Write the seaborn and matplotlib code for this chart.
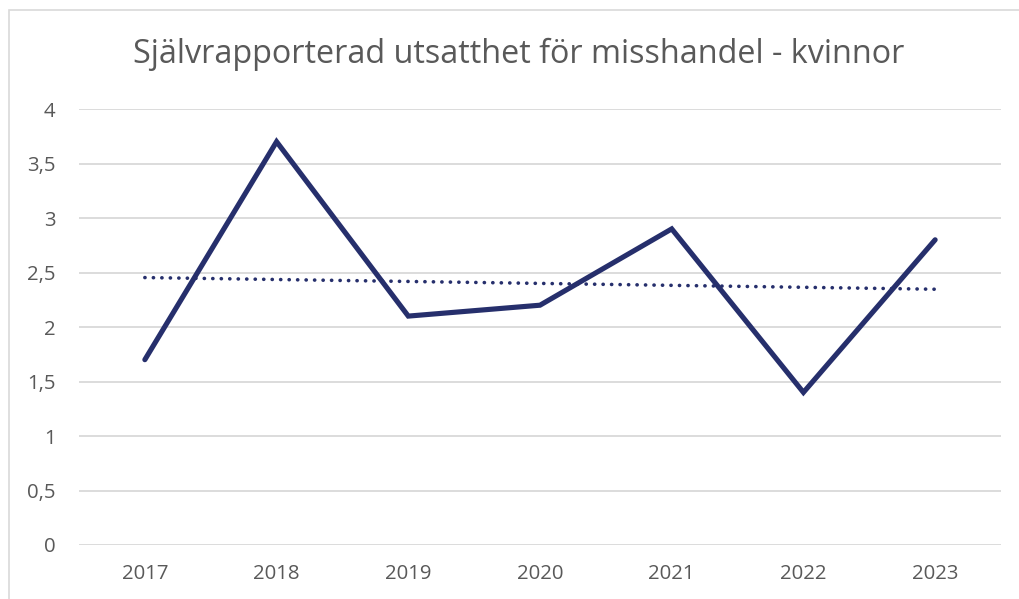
import numpy as np
import pandas as pd
import matplotlib
matplotlib.use("Agg")
import matplotlib.pyplot as plt
import seaborn as sns
from matplotlib.ticker import FuncFormatter, MultipleLocator
from matplotlib.patches import Rectangle

# data
years = ["2017", "2018", "2019", "2020", "2021", "2022", "2023"]
values = [1.7, 3.7, 2.1, 2.2, 2.9, 1.4, 2.8]

title = "Självrapporterad utsatthet för misshandel - kvinnor"

df = pd.DataFrame({"pos": np.arange(len(years)), "year": years, "value": values})

# linjär trendlinje (som i Excel)
k, m = np.polyfit(df["pos"], df["value"], 1)
df["trend"] = k * df["pos"] + m

sns.set_theme(style="white")
plt.rcParams["font.family"] = ["Open Sans", "DejaVu Sans"]

LINE = "#262f6c"
GRID = "#d9d9d9"
TEXT = "#595959"

fig = plt.figure(figsize=(10.19, 5.99), dpi=100)
ax = fig.add_axes([79 / 1019, 1 - 545 / 599, (1001 - 79) / 1019, (545 - 109) / 599])

# ram runt diagramytan
fig.patches.append(Rectangle((9 / 1019, -0.05), 1.1, 1 - 10 / 599 + 0.05,
                             transform=fig.transFigure, fill=False,
                             edgecolor=GRID, linewidth=1.2))

sns.lineplot(data=df, x="pos", y="trend", ax=ax, color=LINE, linewidth=2.6,
             linestyle=(0, (0.05, 2.3)), dash_capstyle="round", zorder=3)
sns.lineplot(data=df, x="pos", y="value", ax=ax, color=LINE, linewidth=3.7,
             solid_capstyle="round", solid_joinstyle="miter", zorder=4)

ax.set_xlim(-0.5, len(years) - 0.5)
ax.set_ylim(0, 4)
ax.set_xticks(df["pos"])
ax.set_xticklabels(years)
ax.yaxis.set_major_locator(MultipleLocator(0.5))
ax.yaxis.set_major_formatter(FuncFormatter(lambda v, p: f"{v:g}".replace(".", ",")))

ax.grid(axis="y", color=GRID, linewidth=1.3)
ax.grid(axis="x", visible=False)
for s in ax.spines.values():
    s.set_visible(False)
ax.tick_params(axis="both", length=0, labelsize=14.7, colors=TEXT)
ax.tick_params(axis="y", pad=17)
ax.tick_params(axis="x", pad=14)
ax.set_xlabel("")
ax.set_ylabel("")

fig.text(519 / 1019, 1 - 54 / 599, title, ha="center", va="center",
         fontsize=23.3, color=TEXT)

fig.savefig("out.png", dpi=100)
